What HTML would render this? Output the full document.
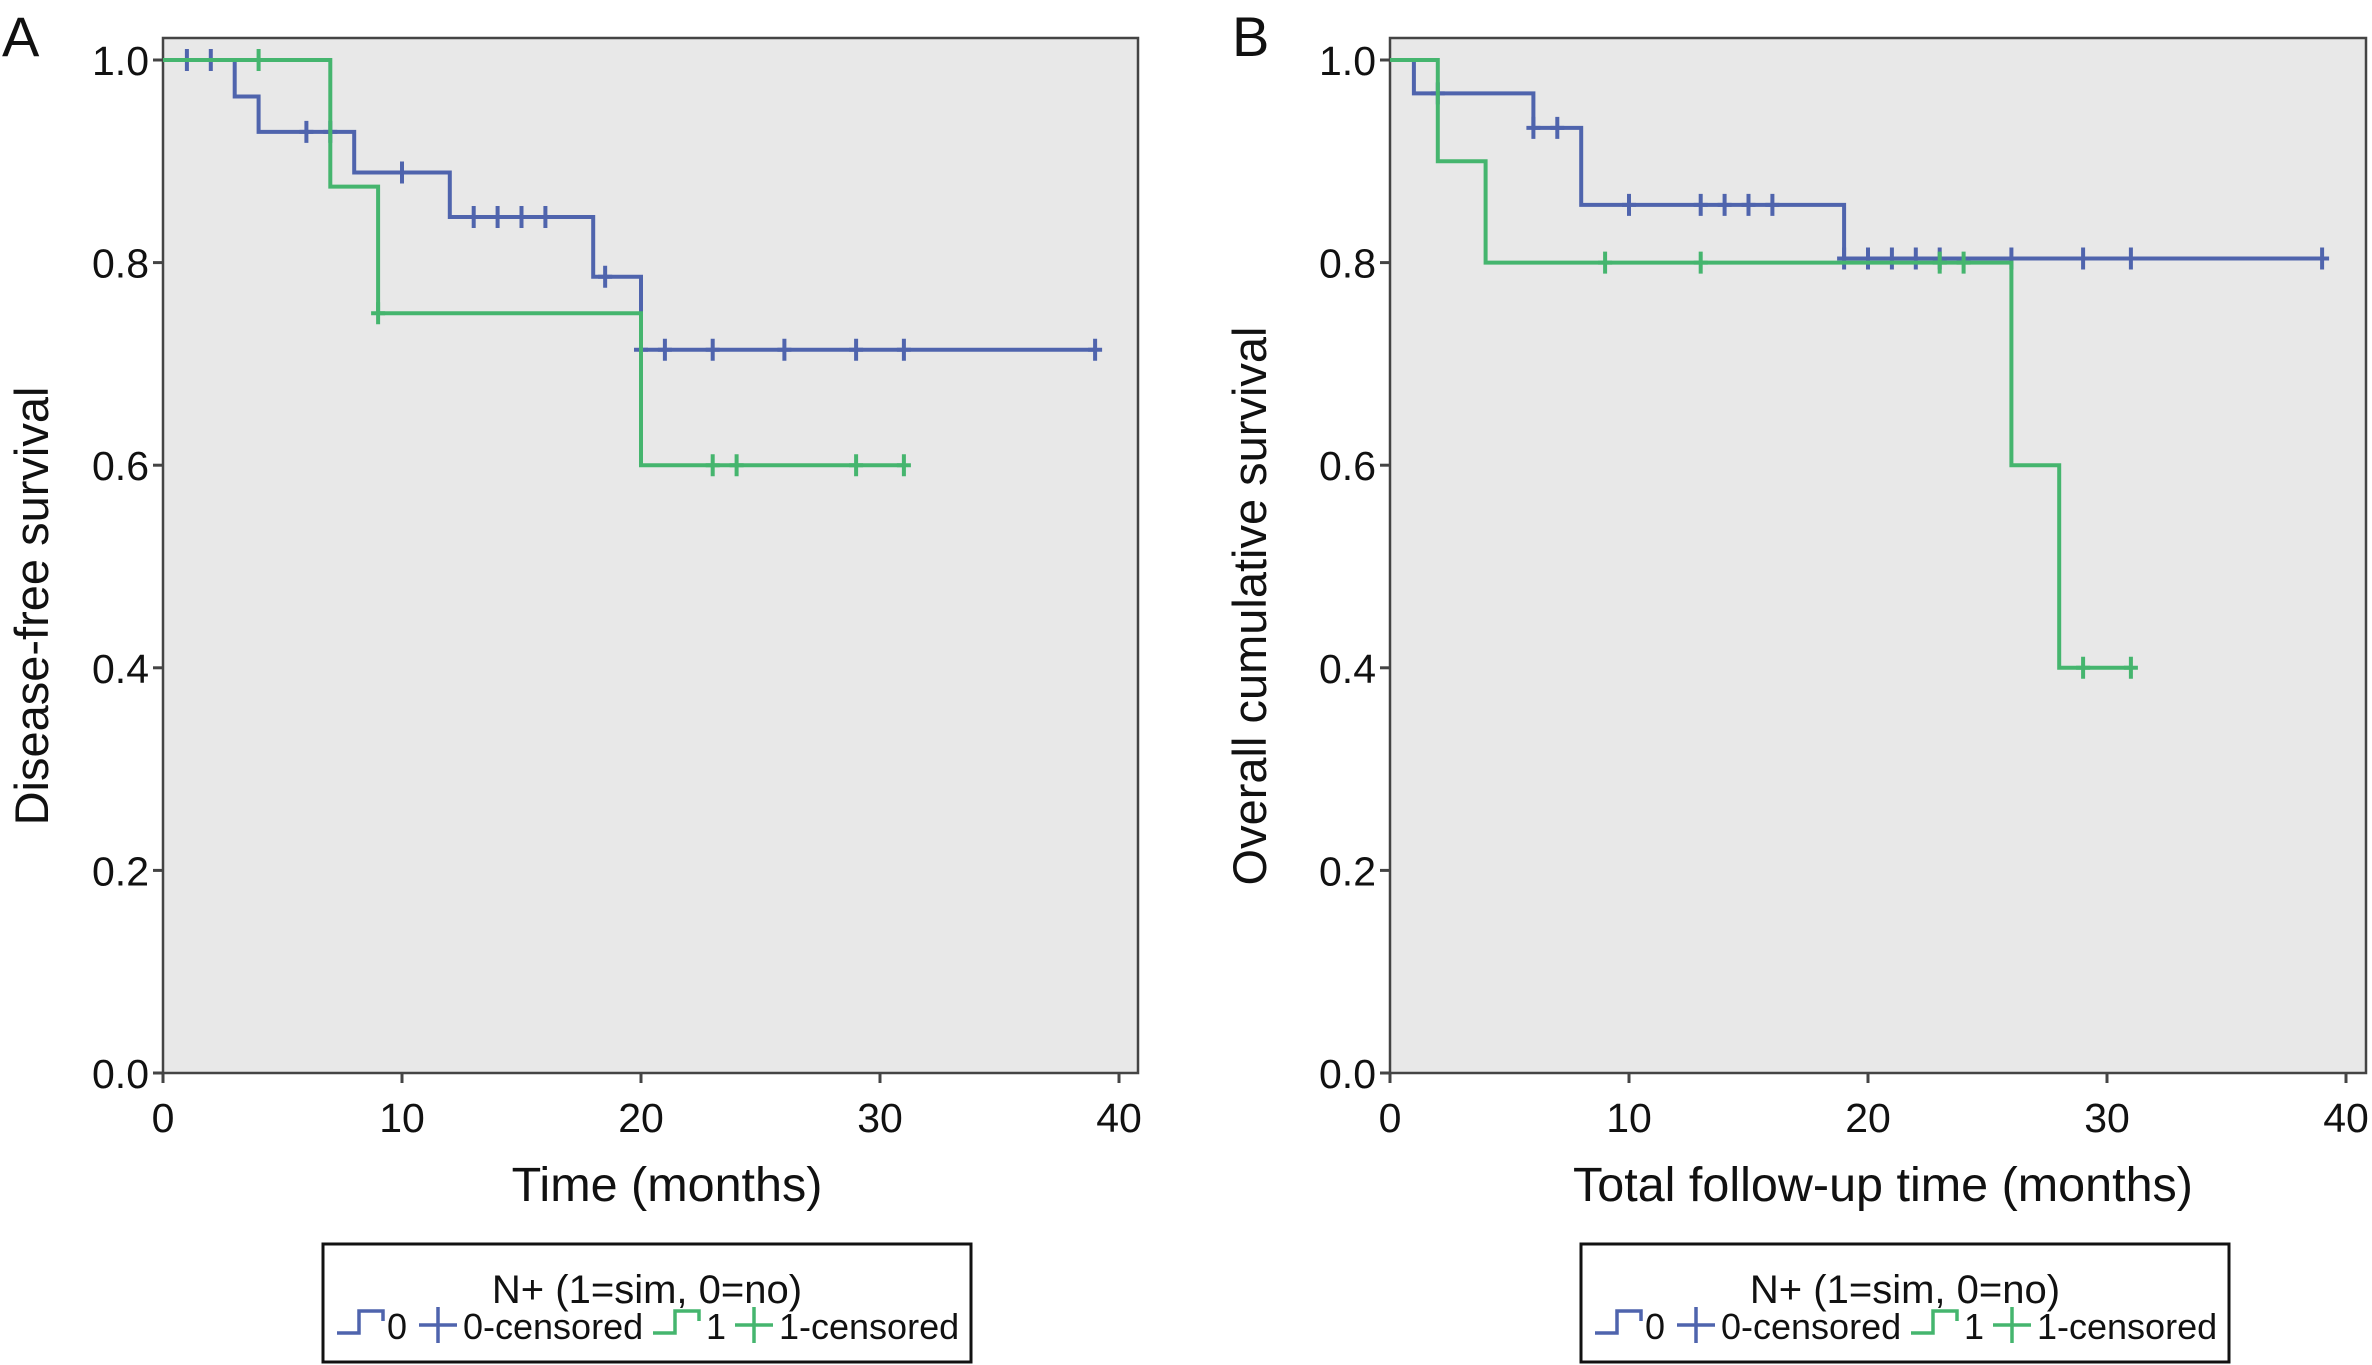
<!DOCTYPE html>
<html><head><meta charset="utf-8">
<style>
html,body{margin:0;padding:0;background:#fff;}
svg{display:block;font-family:"Liberation Sans",Arial,sans-serif;}
</style></head>
<body>
<svg id="chart" width="2372" height="1365" viewBox="0 0 2372 1365" xmlns="http://www.w3.org/2000/svg"></svg>
<script>
// ---- Data ----
const xTicks = [0, 10, 20, 30, 40];
const yTicks = [0.0, 0.2, 0.4, 0.6, 0.8, 1.0];
const yTickLabels = ["0.0", "0.2", "0.4", "0.6", "0.8", "1.0"];
// Panel A (disease-free survival)
const aBlueStepTimes = [0, 3, 4, 8, 12, 18, 20, 39];
const aBlueStepValues = [1.0, 0.964, 0.929, 0.889, 0.845, 0.786, 0.714, 0.714];
const aBlueCensorTimes = [1, 2, 6, 7, 10, 13, 14, 15, 16, 18.5, 20, 21, 23, 26, 29, 31, 39];
const aGreenStepTimes = [0, 7, 9, 20, 31];
const aGreenStepValues = [1.0, 0.875, 0.75, 0.6, 0.6];
const aGreenCensorTimes = [4, 9, 23, 24, 29, 31];
// Panel B (overall survival)
const bBlueStepTimes = [0, 1, 6, 8, 19, 39];
const bBlueStepValues = [1.0, 0.967, 0.933, 0.857, 0.804, 0.804];
const bBlueCensorTimes = [2, 6, 7, 10, 13, 14, 15, 16, 19, 20, 21, 22, 23, 26, 29, 31, 39];
const bGreenStepTimes = [0, 2, 4, 26, 28, 31];
const bGreenStepValues = [1.0, 0.9, 0.8, 0.6, 0.4, 0.4];
const bGreenCensorTimes = [9, 13, 23, 24, 29, 31];

const NS = "http://www.w3.org/2000/svg";
const svg = document.getElementById("chart");
const BLUE = "#4f64ad", GREEN = "#45b56e";

function mk(tag, attrs, parent) {
  const e = document.createElementNS(NS, tag);
  for (const k in attrs) e.setAttribute(k, attrs[k]);
  (parent || svg).appendChild(e);
  return e;
}

function valueAt(times, vals, t) {
  let v = vals[0];
  for (let i = 0; i < times.length; i++) if (times[i] <= t) v = vals[i];
  return v;
}

function panel(cfg) {
  const g = mk("g", {});
  
  
  const sx = t => cfg.x0 + (cfg.x40 - cfg.x0) * t / 40;
  const sy = v => cfg.y0 + (cfg.y1 - cfg.y0) * v;
  const bg = mk("rect", {x: cfg.fl, y: 38, width: cfg.fr - cfg.fl, height: sy(0) - 38, fill: "#e8e8e8", stroke: "#444", "stroke-width": 2.5}, g);
  
  
  yTicks.forEach((v, i) => {
    const t = mk("line", {x1: cfg.fl - 10, x2: cfg.fl, y1: sy(v), y2: sy(v), stroke: "#444", "stroke-width": 3}, g);
    
    
    const lb = mk("text", {x: cfg.fl - 14, y: sy(v) + 15, "font-size": 41, "text-anchor": "end", fill: "#111"}, g);
    lb.textContent = yTickLabels[i];
    
    
  });
  xTicks.forEach(v => {
    const t = mk("line", {x1: sx(v), x2: sx(v), y1: sy(0), y2: sy(0) + 10, stroke: "#444", "stroke-width": 3}, g);
    
    
    const lb = mk("text", {x: sx(v), y: 1132, "font-size": 41, "text-anchor": "middle", fill: "#111"}, g);
    lb.textContent = String(v);
    
    
  });
  cfg.series.forEach(s => {
    let d = "M" + sx(s.times[0]) + "," + sy(s.vals[0]);
    for (let i = 1; i < s.times.length; i++) {
      d += " H" + sx(s.times[i]) + " V" + sy(s.vals[i]);
    }
    const p = mk("path", {d: d, fill: "none", stroke: s.color, "stroke-width": 4}, g);
    
    
    s.censor.forEach(t => {
      const v = valueAt(s.times, s.vals, t);
      const c = mk("path", {d: "M" + sx(t) + "," + (sy(v) - 11) + " V" + (sy(v) + 11) + " M" + (sx(t) - 7) + "," + sy(v) + " H" + (sx(t) + 7), stroke: s.color, "stroke-width": 4}, g);
      
      
    });
  });
  const xt = mk("text", {x: (cfg.x0 + cfg.x40) / 2 + cfg.xtOff, y: 1201, "font-size": 48.5, "text-anchor": "middle", fill: "#111"}, g);
  xt.textContent = cfg.xTitle;
  
  
  const yt = mk("text", {x: 0, y: 0, "font-size": 47, "text-anchor": "middle", fill: "#111", transform: "translate(" + cfg.ytx + ",606) rotate(-90)"}, g);
  yt.textContent = cfg.yTitle;
  
  
  const pl = mk("text", {x: cfg.letterX, y: 56, "font-size": 56, fill: "#111"}, g);
  pl.textContent = cfg.letter;
  
  
  const L = cfg.legX;
  const lg = mk("g", {}, g);
  
  
  mk("rect", {x: L, y: 1244, width: 648, height: 118, fill: "#fff", stroke: "#111", "stroke-width": 3}, lg);
  const tt = mk("text", {x: L + 324, y: 1303, "font-size": 40, "text-anchor": "middle", fill: "#111"}, lg);
  tt.textContent = "N+ (1=sim, 0=no)";
  
  
  const by = 1339;
  function stepIcon(x, col) {
    const e = mk("path", {d: "M" + x + "," + (by - 6) + " H" + (x + 22) + " V" + (by - 28) + " H" + (x + 46) + " V" + (by - 18), fill: "none", stroke: col, "stroke-width": 3.5}, lg);
    
    
  }
  function plusIcon(x, col) {
    const e = mk("path", {d: "M" + x + "," + (by - 14) + " H" + (x + 38) + " M" + (x + 19) + "," + (by - 32) + " V" + (by + 4), fill: "none", stroke: col, "stroke-width": 3.5}, lg);
    
    
  }
  function txt(x, s) {
    const e = mk("text", {x: x, y: by, "font-size": 36, fill: "#111"}, lg);
    e.textContent = s;
    
    
  }
  stepIcon(L + 14, BLUE); txt(L + 64, "0");
  plusIcon(L + 96, BLUE); txt(L + 140, "0-censored");
  stepIcon(L + 330, GREEN); txt(L + 383, "1");
  plusIcon(L + 412, GREEN); txt(L + 456, "1-censored");
}

panel({name: "panel-a", letter: "A", letterX: 2, x0: 163, x40: 1119, fl: 163, fr: 1138, y1: 60, y0: 1073,
  xTitle: "Time (months)", yTitle: "Disease-free survival", ytx: 48, legX: 323, xtOff: 26,
  series: [
    {name: "group-0", color: BLUE, times: aBlueStepTimes, vals: aBlueStepValues, censor: aBlueCensorTimes},
    {name: "group-1", color: GREEN, times: aGreenStepTimes, vals: aGreenStepValues, censor: aGreenCensorTimes}
  ]});
panel({name: "panel-b", letter: "B", letterX: 1232, x0: 1390, x40: 2346, fl: 1390, fr: 2366, y1: 60, y0: 1073,
  xTitle: "Total follow-up time (months)", yTitle: "Overall cumulative survival", ytx: 1266, legX: 1581, xtOff: 15,
  series: [
    {name: "group-0", color: BLUE, times: bBlueStepTimes, vals: bBlueStepValues, censor: bBlueCensorTimes},
    {name: "group-1", color: GREEN, times: bGreenStepTimes, vals: bGreenStepValues, censor: bGreenCensorTimes}
  ]});
</script>
</body></html>
